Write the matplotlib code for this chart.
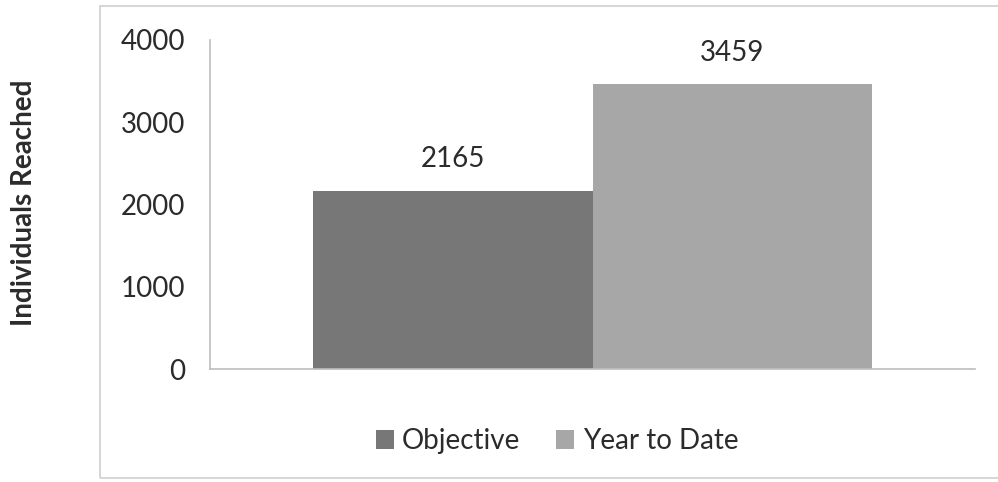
import matplotlib.pyplot as plt
from matplotlib.patches import Rectangle

series = ['Objective', 'Year to Date']
values = [2165, 3459]
colors = ['#777777', '#a7a7a7']
yticks = [0, 1000, 2000, 3000, 4000]

plt.rcParams['font.family'] = ['Lato', 'DejaVu Sans']
txt = '#2b2b2b'

fig = plt.figure(figsize=(9.98, 4.82), dpi=100)
# chart area border
fig.patches.append(Rectangle((100 / 998, 4 / 482), 0.95, 472 / 482, transform=fig.transFigure,
                             fill=False, edgecolor='#d0d0d0', linewidth=1.2))

ax = fig.add_axes([210 / 998, 1 - 369 / 482, 765 / 998, 329 / 482])
w = 0.366
offsets = [-w / 2, w / 2]
for name, v, c, off in zip(series, values, colors, offsets):
    ax.bar(off, v, width=w, color=c, label=name)
    ax.text(off, v + 230, str(v), ha='center', va='bottom', fontsize=20, color=txt)

ax.set_xlim(-0.5, 0.5)
ax.set_ylim(0, 4000)
ax.set_yticks(yticks)
ax.set_yticklabels([str(t) for t in yticks], fontsize=20, color=txt)
ax.set_xticks([])
ax.tick_params(axis='y', length=0, pad=18)
for s in ['top', 'right']:
    ax.spines[s].set_visible(False)
for s in ['left', 'bottom']:
    ax.spines[s].set_color('#bdbdbd')
    ax.spines[s].set_linewidth(1.2)

fig.text(24 / 998, 1 - 203 / 482, 'Individuals Reached', rotation=90, ha='center', va='center',
         fontsize=20, fontweight='bold', color=txt)

fig.legend(loc='center', bbox_to_anchor=(557 / 998, 1 - 441 / 482), ncol=2, frameon=False,
           fontsize=20, handlelength=0.65, handleheight=0.65, handletextpad=0.3, columnspacing=1.3,
           labelcolor=txt)

fig.savefig('out.png', dpi=100)
